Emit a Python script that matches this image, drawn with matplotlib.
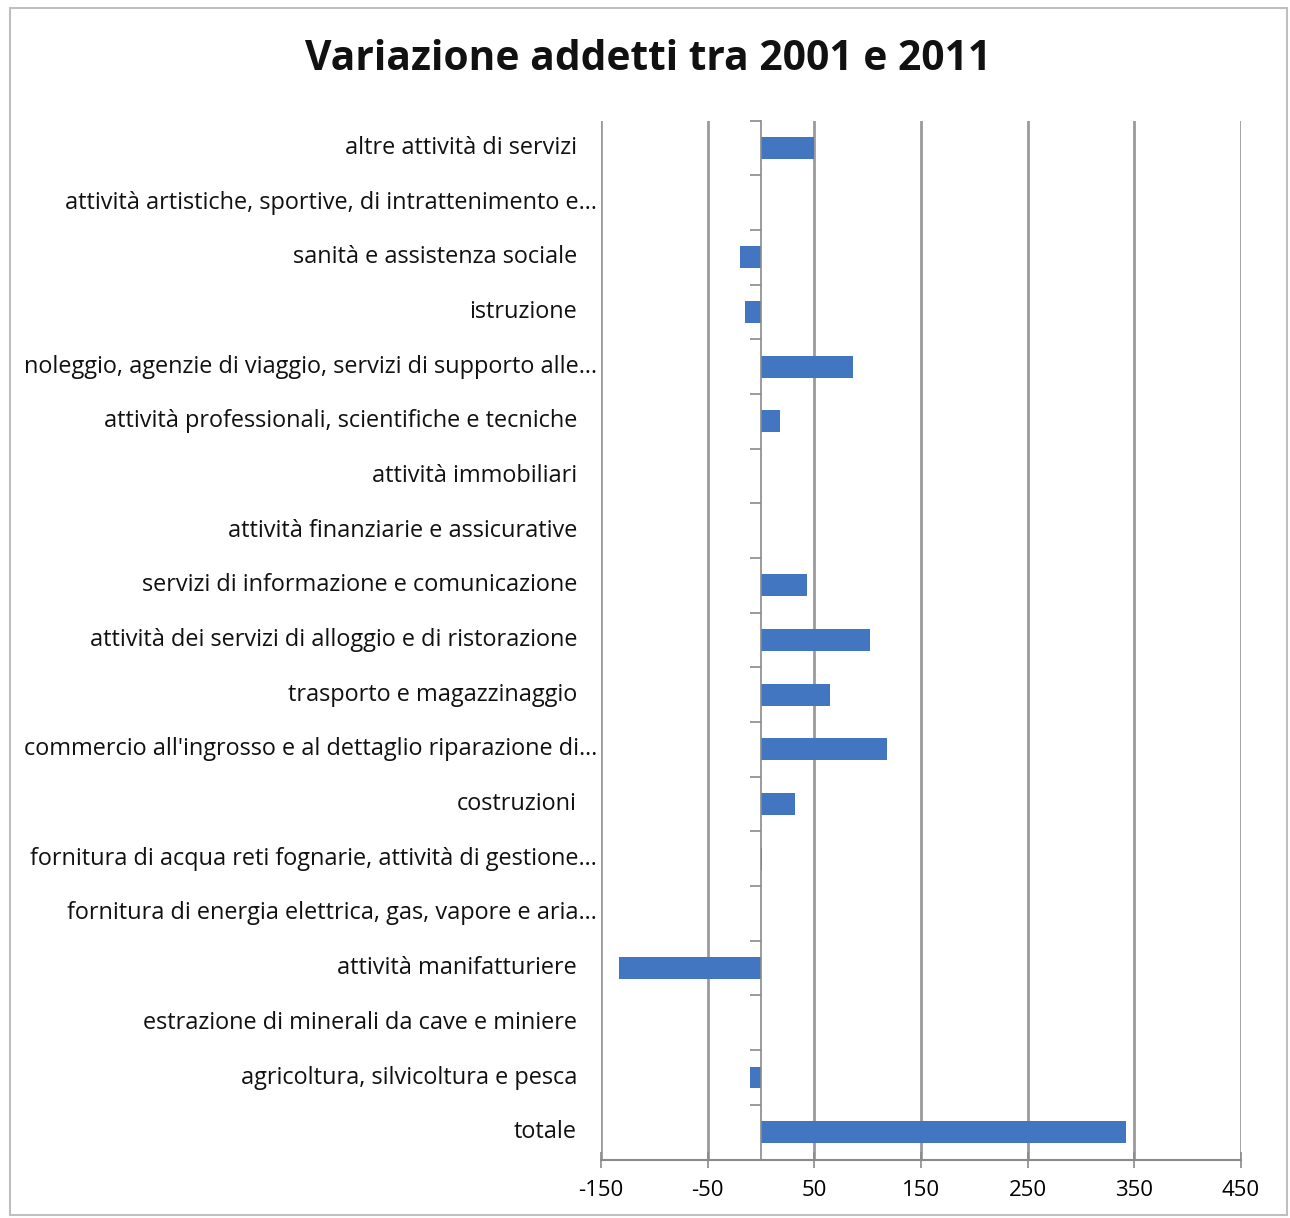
import matplotlib.pyplot as plt
from matplotlib.patches import Rectangle
from matplotlib.ticker import FixedLocator
from matplotlib.transforms import blended_transform_factory

plt.rcParams['font.family'] = ['Open Sans', 'DejaVu Sans']

settori = [
    "altre attività di servizi",
    "attività artistiche, sportive, di intrattenimento e…",
    "sanità e assistenza sociale",
    "istruzione",
    "noleggio, agenzie di viaggio, servizi di supporto alle…",
    "attività professionali, scientifiche e tecniche",
    "attività immobiliari",
    "attività finanziarie e assicurative",
    "servizi di informazione e comunicazione",
    "attività dei servizi di alloggio e di ristorazione",
    "trasporto e magazzinaggio",
    "commercio all'ingrosso e al dettaglio riparazione di…",
    "costruzioni",
    "fornitura di acqua reti fognarie, attività di gestione…",
    "fornitura di energia elettrica, gas, vapore e aria…",
    "attività manifatturiere",
    "estrazione di minerali da cave e miniere",
    "agricoltura, silvicoltura e pesca",
    "totale",
]
variazione = [50, 0, -20, -15, 86, 18, 0, 0, 43, 102, 65, 118, 32, 1, 0, -133, 0, -10, 342]
x_ticks = [-150, -50, 50, 150, 250, 350, 450]

fig = plt.figure(figsize=(12.9, 12.18), dpi=100)
ax = fig.add_axes([0.466, 0.048, 0.496, 0.853])

n = len(settori)
ypos = [n - 1 - i for i in range(n)]
ax.barh(ypos, variazione, height=0.4, color='#4276C0', zorder=3)

ax.set_xlim(-150, 450)
ax.set_ylim(-0.5, n - 0.5)
ax.set_xticks(x_ticks)
ax.set_xticklabels([str(v) for v in x_ticks], fontsize=16)
ax.grid(axis='x', color='#9a9a9a', linewidth=2, zorder=1)
ax.tick_params(axis='x', direction='inout', length=12, width=1.2, color='#8a8a8a', pad=9)

# category axis sits at zero, with marks between categories
for s in ['top', 'right']:
    ax.spines[s].set_visible(False)
ax.spines['left'].set_position(('data', 0))
ax.spines['left'].set_color('#8a8a8a')
ax.spines['left'].set_linewidth(1.2)
ax.spines['left'].set_zorder(4)
ax.spines['bottom'].set_color('#8a8a8a')
ax.spines['bottom'].set_linewidth(1.5)
ax.yaxis.set_major_locator(FixedLocator([]))
ax.yaxis.set_minor_locator(FixedLocator([k + 0.5 for k in range(-1, n)]))
ax.tick_params(axis='y', which='minor', direction='out', length=8, width=1.2, color='#8a8a8a')

lab_trans = blended_transform_factory(fig.transFigure, ax.transData)
for y, lab in zip(ypos, settori):
    xr = 597 if lab.endswith('…') else 577
    ax.text(xr / 1290, y, lab, transform=lab_trans,
            ha='right', va='center', fontsize=16.9, color='#111111')

fig.text(0.502, 0.951, "Variazione addetti tra 2001 e 2011", ha='center', va='center',
         fontsize=29.3, fontweight='bold', color='#111111')

fig.patches.append(Rectangle((10 / 1290, 3 / 1218), 1277 / 1290, 1207 / 1218, transform=fig.transFigure,
                             fill=False, edgecolor='#bfbfbf', linewidth=1.5))

fig.savefig('out.png', dpi=100)
